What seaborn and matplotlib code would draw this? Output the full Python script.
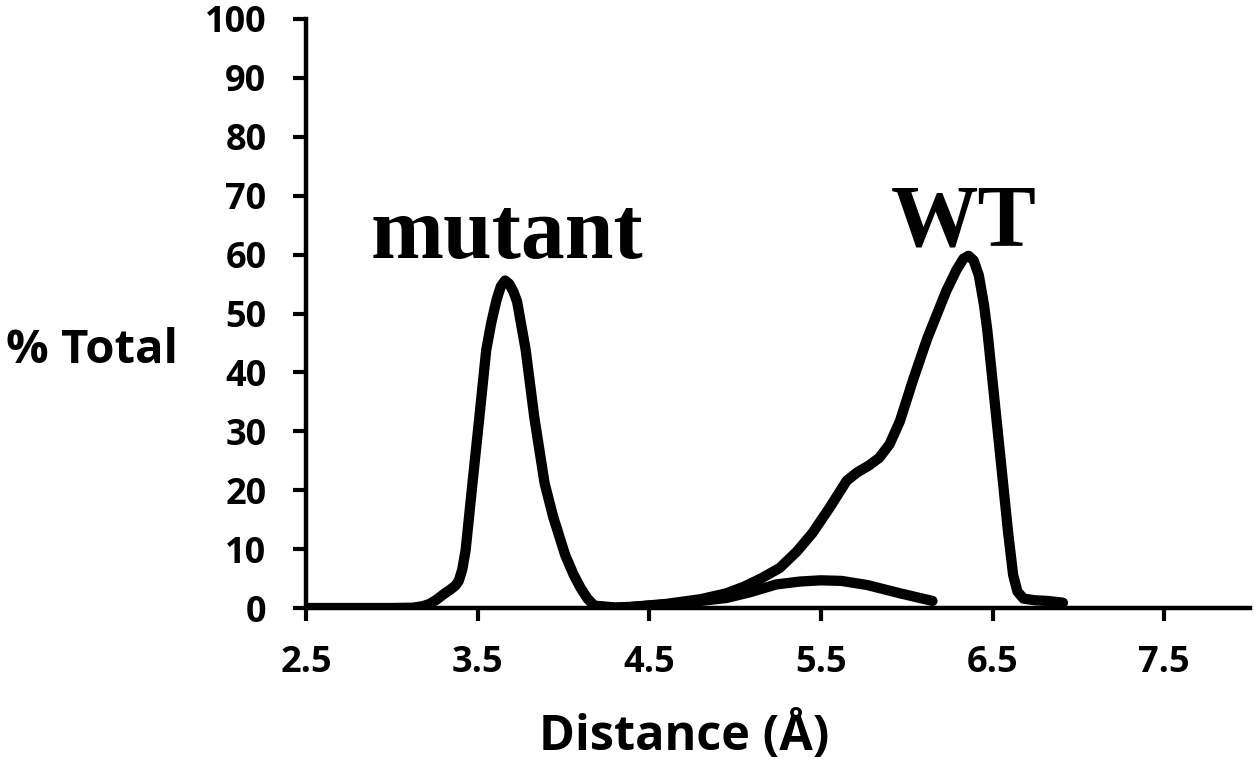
import matplotlib
matplotlib.use("Agg")
import matplotlib.pyplot as plt
import seaborn as sns
import pandas as pd

# ---- data ----
mutant_x = [2.5, 2.8, 3.0, 3.12, 3.18, 3.22, 3.26, 3.30, 3.34, 3.37, 3.39, 3.41, 3.43, 3.47, 3.51,
            3.55, 3.58, 3.61, 3.635, 3.66, 3.685, 3.71, 3.73, 3.78, 3.83, 3.89, 3.94, 4.01, 4.06,
            4.10, 4.14, 4.18, 4.3, 4.4, 4.6, 4.8, 4.95, 5.09, 5.24, 5.38, 5.5, 5.62, 5.77,
            5.96, 6.15]
mutant_y = [0, 0, 0, 0.05, 0.3, 0.7, 1.4, 2.3, 3.1, 3.8, 4.6, 6.5, 9.8, 21.2, 32.4,
            43.8, 48.5, 52.3, 54.6, 55.6, 55.0, 53.6, 52.0, 43.8, 32.4, 21.2, 15.5, 9.0, 5.6,
            3.4, 1.6, 0.4, 0.1, 0.2, 0.6, 1.2, 1.7, 2.7, 4.0, 4.5, 4.7, 4.6, 3.9,
            2.5, 1.2]

wt_x = [4.4, 4.6, 4.8, 4.95, 5.05, 5.15, 5.26, 5.36, 5.45, 5.55, 5.65, 5.71, 5.78, 5.84, 5.90,
        5.96, 6.04, 6.12, 6.23, 6.29, 6.33, 6.36, 6.39, 6.42, 6.45, 6.47, 6.51, 6.55, 6.59,
        6.62, 6.645, 6.68, 6.75, 6.82, 6.91]
wt_y = [0.2, 0.7, 1.5, 2.5, 3.6, 5.0, 6.8, 9.6, 12.7, 17.0, 21.6, 23.0, 24.2, 25.5, 27.8,
        31.7, 39.0, 45.8, 53.8, 57.4, 59.3, 59.8, 59.0, 56.5, 51.5, 47.0, 35.7, 24.4, 13.0,
        5.6, 2.8, 1.6, 1.3, 1.2, 0.9]

x_ticks = [2.5, 3.5, 4.5, 5.5, 6.5, 7.5]
y_ticks = [0, 10, 20, 30, 40, 50, 60, 70, 80, 90, 100]

labels = {"mutant": (3.67, 59.4), "WT": (6.33, 61.6)}

# ---- style ----
sns.set_style("ticks")
plt.rcParams["font.family"] = ["Open Sans", "DejaVu Sans"]
plt.rcParams["font.weight"] = "bold"
plt.rcParams["text.color"] = "black"
plt.rcParams["axes.labelcolor"] = "black"

fig, ax = plt.subplots(figsize=(12.6, 7.65), dpi=100)
fig.subplots_adjust(left=306 / 1260, right=1250 / 1260, bottom=1 - 608 / 765, top=1 - 19 / 765)

df_m = pd.DataFrame({"x": mutant_x, "y": mutant_y})
df_w = pd.DataFrame({"x": wt_x, "y": wt_y})
for d in (df_m, df_w):
    sns.lineplot(data=d, x="x", y="y", ax=ax, color="black", linewidth=7.4,
                 estimator=None, sort=False, solid_capstyle="round", solid_joinstyle="round")

ax.set_xlim(2.5, 8.0)
ax.set_ylim(0, 100)
ax.set_xticks(x_ticks)
ax.set_xticklabels([f"{t:.1f}" for t in x_ticks])
ax.set_yticks(y_ticks)
ax.set_yticklabels([str(t) for t in y_ticks])

for s in ["top", "right"]:
    ax.spines[s].set_visible(False)
for s in ["left", "bottom"]:
    ax.spines[s].set_linewidth(3.2)
    ax.spines[s].set_color("black")

ax.tick_params(axis="both", direction="out", length=9.5, width=3.0, color="black",
               labelsize=26, labelcolor="black")
ax.tick_params(axis="y", pad=19)
ax.tick_params(axis="x", pad=17)
for lab in ax.get_xticklabels() + ax.get_yticklabels():
    lab.set_fontweight("bold")

ax.set_xlabel("Distance (Å)", fontsize=35, fontweight="bold", va="baseline", ha="center",
              color="black")
ax.xaxis.set_label_coords(0.401, -0.241)
ax.set_ylabel("% Total", fontsize=34, fontweight="bold", rotation=0, va="baseline", ha="center",
              color="black")
ax.yaxis.set_label_coords(-0.227, 0.416)

for txt, (tx, ty) in labels.items():
    ax.text(tx, ty, txt, ha="center", va="baseline", fontsize=63, fontweight="bold",
            family=["Liberation Serif", "DejaVu Serif"], color="black")

fig.savefig("out.png", dpi=100)
